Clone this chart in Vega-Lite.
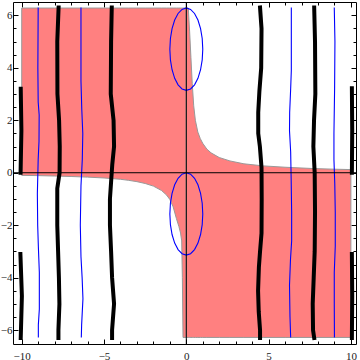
{
  "$schema": "https://vega.github.io/schema/vega-lite/v6.json",
  "width": 343,
  "height": 342,
  "autosize": {"type": "none"},
  "padding": {"left": 13, "top": 2, "right": 4, "bottom": 16},
  "config": {
    "view": {"stroke": "#000000", "strokeWidth": 1},
    "axis": {"labelFont": "Liberation Serif", "labelFontSize": 11, "labelColor": "#222222", "tickColor": "#000000", "grid": false, "domain": false, "title": null}
  },
  "datasets": {
    "region": [
      {"part": "L", "x": -10, "y": -0.1, "y2": 6.28},
      {"part": "L", "x": -9, "y": -0.11, "y2": 6.28},
      {"part": "L", "x": -8, "y": -0.125, "y2": 6.28},
      {"part": "L", "x": -7, "y": -0.143, "y2": 6.28},
      {"part": "L", "x": -6, "y": -0.167, "y2": 6.28},
      {"part": "L", "x": -5, "y": -0.2, "y2": 6.28},
      {"part": "L", "x": -4, "y": -0.25, "y2": 6.28},
      {"part": "L", "x": -3.5, "y": -0.29, "y2": 6.28},
      {"part": "L", "x": -3, "y": -0.34, "y2": 6.28},
      {"part": "L", "x": -2.5, "y": -0.41, "y2": 6.28},
      {"part": "L", "x": -2, "y": -0.51, "y2": 6.28},
      {"part": "L", "x": -1.5, "y": -0.68, "y2": 6.28},
      {"part": "L", "x": -1.2, "y": -0.85, "y2": 6.28},
      {"part": "L", "x": -1, "y": -1.02, "y2": 6.28},
      {"part": "L", "x": -0.8, "y": -1.3, "y2": 6.28},
      {"part": "L", "x": -0.6, "y": -1.75, "y2": 6.28},
      {"part": "L", "x": -0.45, "y": -2.05, "y2": 6.28},
      {"part": "L", "x": -0.35, "y": -2.3, "y2": 6.28},
      {"part": "L", "x": -0.28, "y": -2.6, "y2": 6.28},
      {"part": "L", "x": -0.24, "y": -4.0, "y2": 6.28},
      {"part": "L", "x": -0.2, "y": -6.28, "y2": 6.28},
      {"part": "L", "x": 0, "y": -6.28, "y2": 6.28},
      {"part": "R", "x": 0, "y": -6.28, "y2": 6.28},
      {"part": "R", "x": 0.12, "y": -6.28, "y2": 6.28},
      {"part": "R", "x": 0.2, "y": -6.28, "y2": 5.4},
      {"part": "R", "x": 0.28, "y": -6.28, "y2": 4.4},
      {"part": "R", "x": 0.36, "y": -6.28, "y2": 3.4},
      {"part": "R", "x": 0.45, "y": -6.28, "y2": 2.55},
      {"part": "R", "x": 0.55, "y": -6.28, "y2": 2.0},
      {"part": "R", "x": 0.7, "y": -6.28, "y2": 1.55},
      {"part": "R", "x": 0.85, "y": -6.28, "y2": 1.3},
      {"part": "R", "x": 1.0, "y": -6.28, "y2": 1.12},
      {"part": "R", "x": 1.25, "y": -6.28, "y2": 0.9},
      {"part": "R", "x": 1.5, "y": -6.28, "y2": 0.76},
      {"part": "R", "x": 2.0, "y": -6.28, "y2": 0.58},
      {"part": "R", "x": 2.65, "y": -6.28, "y2": 0.45},
      {"part": "R", "x": 3.5, "y": -6.28, "y2": 0.34},
      {"part": "R", "x": 4.7, "y": -6.28, "y2": 0.26},
      {"part": "R", "x": 6.0, "y": -6.28, "y2": 0.21},
      {"part": "R", "x": 7.7, "y": -6.28, "y2": 0.16},
      {"part": "R", "x": 9.0, "y": -6.28, "y2": 0.135},
      {"part": "R", "x": 10.0, "y": -6.28, "y2": 0.12}
    ],
    "black": [
      {"id": "A1", "x": -10.07, "y": 0},
      {"id": "A1", "x": -10.02, "y": 1.6},
      {"id": "A1", "x": -10.06, "y": 3.2},
      {"id": "A2", "x": -10.08, "y": -3.1},
      {"id": "A2", "x": -9.99, "y": -4.7},
      {"id": "A2", "x": -10.06, "y": -6.3},
      {"id": "J1", "x": 10.06, "y": 0},
      {"id": "J1", "x": 10.08, "y": 1.6},
      {"id": "J1", "x": 10.06, "y": 3.22},
      {"id": "J2", "x": 10.06, "y": -3.1},
      {"id": "J2", "x": 10.08, "y": -4.7},
      {"id": "J2", "x": 10.06, "y": -6.3},
      {"id": "B", "x": -7.76, "y": 6.3},
      {"id": "B", "x": -7.84, "y": 5},
      {"id": "B", "x": -7.83, "y": 3},
      {"id": "B", "x": -7.73, "y": 2},
      {"id": "B", "x": -7.69, "y": 1},
      {"id": "B", "x": -7.7, "y": 0},
      {"id": "B", "x": -7.84, "y": -0.6},
      {"id": "B", "x": -7.84, "y": -2},
      {"id": "B", "x": -7.79, "y": -3},
      {"id": "B", "x": -7.74, "y": -4},
      {"id": "B", "x": -7.71, "y": -5},
      {"id": "B", "x": -7.77, "y": -6},
      {"id": "B", "x": -7.77, "y": -6.3},
      {"id": "C", "x": -4.53, "y": 6.3},
      {"id": "C", "x": -4.57, "y": 5},
      {"id": "C", "x": -4.59, "y": 3},
      {"id": "C", "x": -4.42, "y": 2},
      {"id": "C", "x": -4.39, "y": 1},
      {"id": "C", "x": -4.5, "y": 0.3},
      {"id": "C", "x": -4.64, "y": -1},
      {"id": "C", "x": -4.64, "y": -2},
      {"id": "C", "x": -4.57, "y": -3},
      {"id": "C", "x": -4.51, "y": -4},
      {"id": "C", "x": -4.39, "y": -5},
      {"id": "C", "x": -4.51, "y": -6},
      {"id": "C", "x": -4.51, "y": -6.3},
      {"id": "F", "x": 4.48, "y": 6.3},
      {"id": "F", "x": 4.57, "y": 5.5},
      {"id": "F", "x": 4.55, "y": 4},
      {"id": "F", "x": 4.44, "y": 3.1},
      {"id": "F", "x": 4.37, "y": 2.3},
      {"id": "F", "x": 4.37, "y": 1.5},
      {"id": "F", "x": 4.47, "y": 1.0},
      {"id": "F", "x": 4.57, "y": 0.2},
      {"id": "F", "x": 4.58, "y": -1},
      {"id": "F", "x": 4.57, "y": -2.3},
      {"id": "F", "x": 4.48, "y": -3.0},
      {"id": "F", "x": 4.41, "y": -3.6},
      {"id": "F", "x": 4.36, "y": -4.5},
      {"id": "F", "x": 4.4, "y": -5.3},
      {"id": "F", "x": 4.48, "y": -6.0},
      {"id": "F", "x": 4.48, "y": -6.3},
      {"id": "G", "x": 7.77, "y": 6.3},
      {"id": "G", "x": 7.82, "y": 5},
      {"id": "G", "x": 7.84, "y": 3},
      {"id": "G", "x": 7.76, "y": 2},
      {"id": "G", "x": 7.72, "y": 1},
      {"id": "G", "x": 7.8, "y": 0},
      {"id": "G", "x": 7.82, "y": -1.5},
      {"id": "G", "x": 7.8, "y": -3},
      {"id": "G", "x": 7.74, "y": -4},
      {"id": "G", "x": 7.68, "y": -5},
      {"id": "G", "x": 7.7, "y": -6},
      {"id": "G", "x": 7.77, "y": -6.3}
    ],
    "blue": [
      {"id": "D", "x": -9.0, "y": 6.3},
      {"id": "D", "x": -9.02, "y": 4},
      {"id": "D", "x": -9.0, "y": 2.7},
      {"id": "D", "x": -8.94, "y": 2.2},
      {"id": "D", "x": -8.95, "y": 1.2},
      {"id": "D", "x": -9.0, "y": 0.5},
      {"id": "D", "x": -9.05, "y": -0.8},
      {"id": "D", "x": -9.03, "y": -2},
      {"id": "D", "x": -8.99, "y": -2.8},
      {"id": "D", "x": -8.93, "y": -3.8},
      {"id": "D", "x": -8.93, "y": -5.2},
      {"id": "D", "x": -8.99, "y": -5.8},
      {"id": "D", "x": -8.99, "y": -6.28},
      {"id": "E", "x": -6.4, "y": 6.3},
      {"id": "E", "x": -6.4, "y": 3.5},
      {"id": "E", "x": -6.35, "y": 2.4},
      {"id": "E", "x": -6.29, "y": 1.5},
      {"id": "E", "x": -6.32, "y": 0.5},
      {"id": "E", "x": -6.4, "y": -0.5},
      {"id": "E", "x": -6.44, "y": -2},
      {"id": "E", "x": -6.4, "y": -3.2},
      {"id": "E", "x": -6.33, "y": -4},
      {"id": "E", "x": -6.28, "y": -4.8},
      {"id": "E", "x": -6.36, "y": -5.8},
      {"id": "E", "x": -6.38, "y": -6.28},
      {"id": "H", "x": 6.38, "y": 6.3},
      {"id": "H", "x": 6.38, "y": 3.9},
      {"id": "H", "x": 6.34, "y": 3.2},
      {"id": "H", "x": 6.28, "y": 2.3},
      {"id": "H", "x": 6.27, "y": 1.6},
      {"id": "H", "x": 6.34, "y": 0.8},
      {"id": "H", "x": 6.37, "y": -0.2},
      {"id": "H", "x": 6.4, "y": -1.5},
      {"id": "H", "x": 6.4, "y": -2.6},
      {"id": "H", "x": 6.33, "y": -3.3},
      {"id": "H", "x": 6.27, "y": -4.3},
      {"id": "H", "x": 6.3, "y": -5.5},
      {"id": "H", "x": 6.34, "y": -6.28},
      {"id": "I", "x": 8.99, "y": 6.3},
      {"id": "I", "x": 9.03, "y": 5},
      {"id": "I", "x": 9.01, "y": 3.2},
      {"id": "I", "x": 8.97, "y": 1.5},
      {"id": "I", "x": 8.97, "y": 0.5},
      {"id": "I", "x": 9.02, "y": -0.4},
      {"id": "I", "x": 9.05, "y": -1.5},
      {"id": "I", "x": 9.05, "y": -2.8},
      {"id": "I", "x": 8.99, "y": -3.8},
      {"id": "I", "x": 8.99, "y": -5},
      {"id": "I", "x": 9.0, "y": -6.28}
    ],
    "ellipse": [
      {"id": "U", "o": 0, "x": 1, "y": 4.712},
      {"id": "U", "o": 1, "x": 0.966, "y": 5.119},
      {"id": "U", "o": 2, "x": 0.866, "y": 5.497},
      {"id": "U", "o": 3, "x": 0.707, "y": 5.823},
      {"id": "U", "o": 4, "x": 0.5, "y": 6.072},
      {"id": "U", "o": 5, "x": 0.259, "y": 6.229},
      {"id": "U", "o": 6, "x": 0, "y": 6.283},
      {"id": "U", "o": 7, "x": -0.259, "y": 6.229},
      {"id": "U", "o": 8, "x": -0.5, "y": 6.072},
      {"id": "U", "o": 9, "x": -0.707, "y": 5.823},
      {"id": "U", "o": 10, "x": -0.866, "y": 5.497},
      {"id": "U", "o": 11, "x": -0.966, "y": 5.119},
      {"id": "U", "o": 12, "x": -1, "y": 4.712},
      {"id": "U", "o": 13, "x": -0.966, "y": 4.305},
      {"id": "U", "o": 14, "x": -0.866, "y": 3.927},
      {"id": "U", "o": 15, "x": -0.707, "y": 3.601},
      {"id": "U", "o": 16, "x": -0.5, "y": 3.352},
      {"id": "U", "o": 17, "x": -0.259, "y": 3.195},
      {"id": "U", "o": 18, "x": 0, "y": 3.141},
      {"id": "U", "o": 19, "x": 0.259, "y": 3.195},
      {"id": "U", "o": 20, "x": 0.5, "y": 3.352},
      {"id": "U", "o": 21, "x": 0.707, "y": 3.601},
      {"id": "U", "o": 22, "x": 0.866, "y": 3.927},
      {"id": "U", "o": 23, "x": 0.966, "y": 4.305},
      {"id": "U", "o": 24, "x": 1, "y": 4.712},
      {"id": "W", "o": 0, "x": 1, "y": -1.571},
      {"id": "W", "o": 1, "x": 0.966, "y": -1.164},
      {"id": "W", "o": 2, "x": 0.866, "y": -0.786},
      {"id": "W", "o": 3, "x": 0.707, "y": -0.46},
      {"id": "W", "o": 4, "x": 0.5, "y": -0.211},
      {"id": "W", "o": 5, "x": 0.259, "y": -0.054},
      {"id": "W", "o": 6, "x": 0, "y": 0},
      {"id": "W", "o": 7, "x": -0.259, "y": -0.054},
      {"id": "W", "o": 8, "x": -0.5, "y": -0.211},
      {"id": "W", "o": 9, "x": -0.707, "y": -0.46},
      {"id": "W", "o": 10, "x": -0.866, "y": -0.786},
      {"id": "W", "o": 11, "x": -0.966, "y": -1.164},
      {"id": "W", "o": 12, "x": -1, "y": -1.571},
      {"id": "W", "o": 13, "x": -0.966, "y": -1.978},
      {"id": "W", "o": 14, "x": -0.866, "y": -2.356},
      {"id": "W", "o": 15, "x": -0.707, "y": -2.682},
      {"id": "W", "o": 16, "x": -0.5, "y": -2.931},
      {"id": "W", "o": 17, "x": -0.259, "y": -3.088},
      {"id": "W", "o": 18, "x": 0, "y": -3.142},
      {"id": "W", "o": 19, "x": 0.259, "y": -3.088},
      {"id": "W", "o": 20, "x": 0.5, "y": -2.931},
      {"id": "W", "o": 21, "x": 0.707, "y": -2.682},
      {"id": "W", "o": 22, "x": 0.866, "y": -2.356},
      {"id": "W", "o": 23, "x": 0.966, "y": -1.978},
      {"id": "W", "o": 24, "x": 1, "y": -1.571}
    ],
    "origin": [{"v": 0}]
  },
  "resolve": {"axis": {"x": "independent", "y": "independent"}},
  "layer": [
    {
      "data": {"name": "region"},
      "mark": {"type": "area", "color": "#ff8080", "stroke": "#999999", "strokeWidth": 1, "opacity": 1},
      "encoding": {
        "x": {"field": "x", "type": "quantitative", "scale": {"domain": [-10.53, 10.31], "nice": false, "zero": false}, "axis": {"orient": "bottom", "values": [-10, -5, 0, 5, 10], "ticks": false, "tickSize": 0, "labelPadding": 6}},
        "y": {"field": "y", "type": "quantitative", "scale": {"domain": [-6.53, 6.51], "nice": false, "zero": false}, "axis": {"orient": "left", "values": [-6, -4, -2, 0, 2, 4, 6], "ticks": false, "tickSize": 0, "labelPadding": 1}},
        "y2": {"field": "y2"},
        "detail": {"field": "part"}
      }
    },
    {
      "data": {"name": "black"},
      "mark": {"type": "line", "color": "#000000", "strokeWidth": 4, "strokeCap": "square"},
      "encoding": {
        "x": {"field": "x", "type": "quantitative", "scale": {"domain": [-10.53, 10.31], "nice": false, "zero": false}, "axis": {"orient": "bottom", "values": [-10, -5, 0, 5, 10], "labels": false, "tickSize": -5}},
        "y": {"field": "y", "type": "quantitative", "scale": {"domain": [-6.53, 6.51], "nice": false, "zero": false}, "axis": {"orient": "left", "values": [-6, -4, -2, 0, 2, 4, 6], "labels": false, "tickSize": -5}},
        "detail": {"field": "id"},
        "order": {"field": "y"}
      }
    },
    {
      "data": {"name": "blue"},
      "mark": {"type": "line", "color": "#0000ff", "strokeWidth": 1.1},
      "encoding": {
        "x": {"field": "x", "type": "quantitative", "scale": {"domain": [-10.53, 10.31], "nice": false, "zero": false}, "axis": {"orient": "bottom", "values": [-9, -8, -7, -6, -4, -3, -2, -1, 1, 2, 3, 4, 6, 7, 8, 9], "labels": false, "tickSize": -3}},
        "y": {"field": "y", "type": "quantitative", "scale": {"domain": [-6.53, 6.51], "nice": false, "zero": false}, "axis": {"orient": "left", "values": [-5.5, -5, -4.5, -3.5, -3, -2.5, -1.5, -1, -0.5, 0.5, 1, 1.5, 2.5, 3, 3.5, 4.5, 5, 5.5], "labels": false, "tickSize": -3}},
        "detail": {"field": "id"},
        "order": {"field": "y"}
      }
    },
    {
      "data": {"name": "ellipse"},
      "mark": {"type": "line", "color": "#0000ff", "strokeWidth": 1.1},
      "encoding": {
        "x": {"field": "x", "type": "quantitative", "scale": {"domain": [-10.53, 10.31], "nice": false, "zero": false}, "axis": {"orient": "top", "values": [-10, -5, 0, 5, 10], "labels": false, "tickSize": -5}},
        "y": {"field": "y", "type": "quantitative", "scale": {"domain": [-6.53, 6.51], "nice": false, "zero": false}, "axis": {"orient": "right", "values": [-6, -4, -2, 0, 2, 4, 6], "labels": false, "tickSize": -5}},
        "detail": {"field": "id"},
        "order": {"field": "o"}
      }
    },
    {
      "data": {"name": "origin"},
      "mark": {"type": "rule", "color": "#000000", "strokeWidth": 1},
      "encoding": {
        "x": {"field": "v", "type": "quantitative", "scale": {"domain": [-10.53, 10.31], "nice": false, "zero": false}, "axis": {"orient": "top", "values": [-9, -8, -7, -6, -4, -3, -2, -1, 1, 2, 3, 4, 6, 7, 8, 9], "labels": false, "tickSize": -3}}
      }
    },
    {
      "data": {"name": "origin"},
      "mark": {"type": "rule", "color": "#000000", "strokeWidth": 1},
      "encoding": {
        "y": {"field": "v", "type": "quantitative", "scale": {"domain": [-6.53, 6.51], "nice": false, "zero": false}, "axis": {"orient": "right", "values": [-5.5, -5, -4.5, -3.5, -3, -2.5, -1.5, -1, -0.5, 0.5, 1, 1.5, 2.5, 3, 3.5, 4.5, 5, 5.5], "labels": false, "tickSize": -3}}
      }
    }
  ]
}
